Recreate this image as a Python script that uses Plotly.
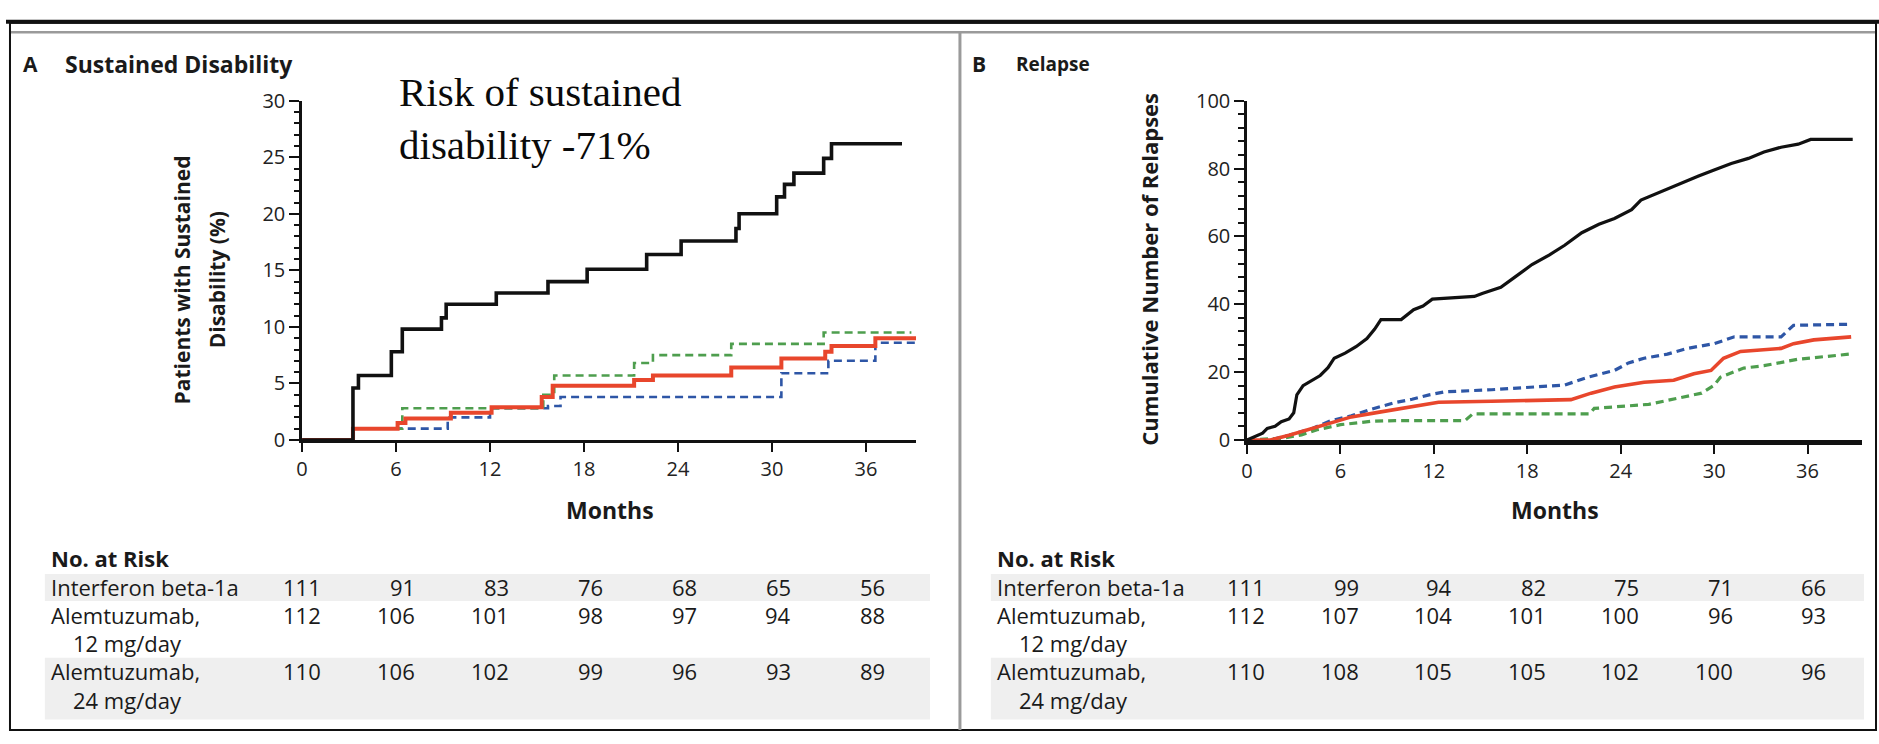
import plotly.graph_objects as go

W, H = 1879, 744

# ---------------- data ----------------
month_ticks = [0, 6, 12, 18, 24, 30, 36]

# Panel A: patients with sustained disability (%)
a_ifn_t = [0, 3.25, 3.6, 5.7, 6.4, 8.9, 9.2, 12.4, 15.7, 18.2, 22.0, 24.2, 27.7, 27.9, 30.3, 30.8, 31.4, 33.3, 33.8, 38.3]
a_ifn_v = [0, 4.6, 5.7, 7.8, 9.8, 10.8, 12.0, 13.0, 14.0, 15.1, 16.4, 17.6, 18.7, 20.0, 21.5, 22.6, 23.6, 24.9, 26.2, 26.2]

a_both_t = [0, 3.25, 6.1, 6.6, 9.5, 12.1, 15.3, 16.0, 21.2, 22.4, 27.4, 30.6, 33.4, 33.8, 36.6, 39.2]
a_both_v = [0, 1.0, 1.5, 1.9, 2.4, 2.9, 3.8, 4.8, 5.3, 5.7, 6.4, 7.2, 7.8, 8.3, 9.0, 9.0]

a_24_t = [0, 3.25, 6.4, 15.4, 16.1, 21.2, 22.4, 27.4, 33.3, 38.9]
a_24_v = [0, 1.0, 2.8, 4.0, 5.7, 6.8, 7.5, 8.5, 9.5, 9.5]

a_12_t = [0, 3.3, 9.3, 12.0, 15.7, 16.5, 30.6, 33.6, 36.6, 39.2]
a_12_v = [0, 1.0, 2.0, 2.8, 3.0, 3.8, 5.9, 7.0, 8.6, 8.6]

# Panel B: cumulative number of relapses
b_ifn_t = [0, 1.0, 1.3, 1.8, 2.2, 2.7, 3.0, 3.2, 3.6, 4.2, 4.7, 5.2, 5.6, 6.3, 7.0, 7.7, 8.2, 8.6, 9.9,
           10.7, 11.3, 11.9, 14.6, 15.1, 15.7, 16.3, 17.2, 18.3, 19.4, 20.4, 21.5, 22.6, 23.6, 24.7, 25.3,
           26.8, 27.9, 29.0, 30.0, 31.1, 32.2, 33.2, 34.3, 35.4, 36.2, 38.9]
b_ifn_v = [0, 2.0, 3.4, 4.0, 5.4, 6.2, 8.0, 13.3, 16.0, 17.6, 19.0, 21.3, 24.1, 25.6, 27.5, 29.9, 32.7, 35.5, 35.5,
           38.4, 39.5, 41.5, 42.3, 43.2, 44.0, 45.0, 48.0, 51.7, 54.5, 57.4, 61.1, 63.6, 65.3, 67.9, 70.7,
           73.6, 75.9, 77.8, 79.6, 81.5, 83.0, 84.9, 86.3, 87.2, 88.6, 88.6]

b_12_t = [0, 1.5, 2.7, 4.2, 5.4, 6.7, 8.0, 9.5, 10.6, 11.7, 12.7, 15.7, 20.4, 21.9, 23.6, 24.5, 25.5,
          27.0, 28.3, 30.0, 31.3, 34.3, 35.1, 38.6]
b_12_v = [0, 0, 1.4, 3.4, 5.7, 7.1, 9.1, 11.0, 12.0, 13.3, 14.2, 14.8, 16.2, 18.5, 20.5, 22.7, 24.1,
          25.3, 27.0, 28.4, 30.4, 30.4, 33.8, 34.1]

b_both_t = [0, 1.5, 2.7, 4.2, 5.4, 6.7, 8.5, 10.6, 12.3, 15.7, 20.8, 22.1, 23.6, 25.5, 27.4, 28.7, 29.8,
            30.6, 31.7, 34.3, 35.1, 36.4, 38.8]
b_both_v = [0, 0, 1.4, 3.4, 4.8, 6.8, 8.2, 9.7, 11.1, 11.4, 11.9, 13.8, 15.6, 17.0, 17.6, 19.5, 20.5,
            24.1, 26.1, 27.0, 28.4, 29.5, 30.4]

b_24_t = [0, 2.3, 3.5, 4.5, 6.0, 8.0, 9.5, 14.0, 14.5, 22.0, 22.3, 25.8, 29.2, 30.0, 30.4, 31.9, 33.2, 35.4, 38.7]
b_24_v = [0, 0.5, 1.5, 3.0, 4.5, 5.5, 5.7, 5.7, 7.7, 7.7, 9.3, 10.5, 13.8, 16.1, 18.5, 21.2, 21.9, 23.8, 25.3]

# Numbers at risk
risk_groups = ["Interferon beta-1a", "Alemtuzumab,", "Alemtuzumab,"]
risk_sub = ["", "12 mg/day", "24 mg/day"]
risk_a = [[111, 91, 83, 76, 68, 65, 56],
          [112, 106, 101, 98, 97, 94, 88],
          [110, 106, 102, 99, 96, 93, 89]]
risk_b = [[111, 99, 94, 82, 75, 71, 66],
          [112, 107, 104, 101, 100, 96, 93],
          [110, 108, 105, 105, 102, 100, 96]]

# ---------------- styling ----------------
SANS = "Open Sans, Noto Sans, Arial, sans-serif"
SERIF = "Liberation Serif, Times New Roman, serif"
BLACK = "#111111"
RED = "#E8462C"
BLUE = "#2E56A6"
GREEN = "#4E9E4E"
DASH = "8px,5px"


def px(x):
    return x / W


def py(y):
    return 1 - y / H


fig = go.Figure()


def add_line(t, v, color, width, dash, xa, ya, name, shape="hv"):
    fig.add_trace(go.Scatter(
        x=t, y=v, mode="lines", name=name, xaxis=xa, yaxis=ya,
        line=dict(color=color, width=width, dash=dash, shape=shape),
        hoverinfo="skip", showlegend=False))


# Panel A curves (Kaplan-Meier steps)
add_line(a_12_t, a_12_v, BLUE, 2.6, DASH, "x", "y", "Alemtuzumab, 12 mg/day")
add_line(a_24_t, a_24_v, GREEN, 2.6, DASH, "x", "y", "Alemtuzumab, 24 mg/day")
add_line(a_both_t, a_both_v, RED, 4, "solid", "x", "y", "Alemtuzumab, both doses")
add_line(a_ifn_t, a_ifn_v, BLACK, 3.6, "solid", "x", "y", "Interferon beta-1a")

# Panel B curves (cumulative counts)
add_line(b_12_t, b_12_v, BLUE, 3.2, DASH, "x2", "y2", "Alemtuzumab, 12 mg/day", "linear")
add_line(b_24_t, b_24_v, GREEN, 3.2, DASH, "x2", "y2", "Alemtuzumab, 24 mg/day", "linear")
add_line(b_both_t, b_both_v, RED, 3.6, "solid", "x2", "y2", "Alemtuzumab, both doses", "linear")
add_line(b_ifn_t, b_ifn_v, BLACK, 3.2, "solid", "x2", "y2", "Interferon beta-1a", "linear")

tickfont = dict(family=SANS, size=20, color="#222222")

xcommon = dict(tickmode="array", tickvals=month_ticks, ticktext=[str(m) for m in month_ticks],
               ticks="outside", ticklen=9, tickwidth=2, tickcolor=BLACK,
               showline=True, linecolor=BLACK, showgrid=False, zeroline=False,
               tickfont=tickfont, fixedrange=True)
ycommon = dict(ticks="outside", ticklen=10, tickwidth=2, tickcolor=BLACK,
               showline=True, linecolor=BLACK, linewidth=2.5, showgrid=False, zeroline=False,
               tickfont=tickfont, fixedrange=True)

y_dom = [py(442), py(90)]

fig.update_layout(
    width=W, height=H, autosize=False,
    margin=dict(l=0, r=0, t=0, b=0),
    paper_bgcolor="white", plot_bgcolor="white",
    showlegend=False,
    xaxis=dict(domain=[px(297), px(913)], range=[0, 39.2], anchor="y", linewidth=3, **xcommon),
    yaxis=dict(domain=y_dom, range=[0, 30], anchor="x", tickmode="linear", tick0=0, dtick=5,
               minor=dict(ticks="outside", ticklen=5, tickwidth=1.5, tickcolor=BLACK, dtick=1, showgrid=False),
               **ycommon),
    xaxis2=dict(domain=[px(1245), px(1862)], range=[0, 39.5], anchor="y2", linewidth=4.5, **xcommon),
    yaxis2=dict(domain=y_dom, range=[0, 100], anchor="x2", tickmode="linear", tick0=0, dtick=20,
                minor=dict(ticks="outside", ticklen=6, tickwidth=1.5, tickcolor=BLACK, dtick=4, showgrid=False),
                **ycommon),
)

shapes = []
# frame and panel dividers
shapes.append(dict(type="rect", xref="paper", yref="paper", x0=px(4), x1=px(1876), y0=py(743), y1=py(9),
                   line=dict(color=BLACK, width=2), layer="below"))
shapes.append(dict(type="line", xref="paper", yref="paper", x0=0, x1=1, y0=py(8), y1=py(8),
                   line=dict(color=BLACK, width=4)))
shapes.append(dict(type="line", xref="paper", yref="paper", x0=px(5), x1=px(1875), y0=py(19), y1=py(19),
                   line=dict(color="#9a9a9a", width=2.5)))
shapes.append(dict(type="line", xref="paper", yref="paper", x0=px(957), x1=px(957), y0=py(19), y1=py(743),
                   line=dict(color="#9a9a9a", width=3)))

# shaded rows of the at-risk tables
for (xl, xr) in [(39, 927), (988, 1864)]:
    for (yt, yb) in [(581, 609), (668, 732)]:
        shapes.append(dict(type="rect", xref="paper", yref="paper", x0=px(xl), x1=px(xr),
                           y0=py(yb), y1=py(yt), fillcolor="#EFEFEF", line=dict(width=0), layer="below"))

annotations = []


def txt(x, y, s, size=20, bold=False, family=SANS, anchor="left", angle=0, color="#1a1a1a", align="left"):
    annotations.append(dict(
        x=px(x), y=py(y), xref="paper", yref="paper", text=f"<b>{s}</b>" if bold else s,
        showarrow=False, xanchor=anchor, yanchor="middle", textangle=angle, borderpad=0, align=align,
        font=dict(family=family, size=size, color=color)))


# panel headings
txt(16, 52, "A", size=21, bold=True)
txt(58, 52, "Sustained Disability", size=23, bold=True)
txt(968, 52, "B", size=21, bold=True)
txt(1012, 52, "Relapse", size=19, bold=True)

# callout (two lines in one text block)
txt(393, 108, "Risk of sustained<br>disability -71%", size=41, family=SERIF, color="#0a0a0a")

# axis titles
txt(177, 276, "Patients with Sustained", size=21, bold=True, anchor="center", angle=-90)
txt(212, 276, "Disability (%)", size=21, bold=True, anchor="center", angle=-90)
txt(1147, 265, "Cumulative Number of Relapses", size=22, bold=True, anchor="center", angle=-90)
txt(606, 515, "Months", size=23, bold=True, anchor="center")
txt(1554, 515, "Months", size=23, bold=True, anchor="center")

# at-risk tables
row_y = [595, 624, 682]
sub_y = [None, 653, 712]
for left, xref, risk in [(44, "x", risk_a), (993, "x2", risk_b)]:
    txt(left, 564, "No. at Risk", size=22, bold=True)
    for i, grp in enumerate(risk_groups):
        txt(left, row_y[i], grp, size=22)
        if risk_sub[i]:
            txt(left + 22, sub_y[i], risk_sub[i], size=22)
        for m, n in zip(month_ticks, risk[i]):
            annotations.append(dict(
                x=m + 1.25, y=py(row_y[i]), xref=xref, yref="paper", text=str(n),
                showarrow=False, xanchor="right", yanchor="middle", borderpad=0,
                font=dict(family=SANS, size=22, color="#1a1a1a")))

fig.update_layout(shapes=shapes, annotations=annotations)

fig.write_html("out.html")
